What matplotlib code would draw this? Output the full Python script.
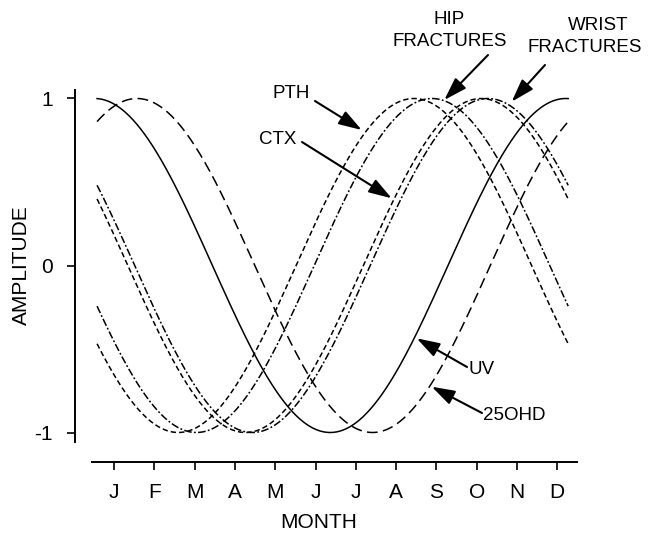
import numpy as np
import matplotlib
matplotlib.use("Agg")
import matplotlib.pyplot as plt

plt.rcParams['font.family'] = ['Liberation Sans', 'DejaVu Sans']
plt.rcParams['axes.unicode_minus'] = False

# Month ticks (index 0 = January)
months = ["J", "F", "M", "A", "M", "J", "J", "A", "S", "O", "N", "D"]

# One seasonal cycle is drawn for every series, from year start to year end
cycle_start = -0.42
cycle_end = 11.27

# Peak (acrophase) of each series, in month-tick units
series = ["UV", "25OHD", "PTH", "HIP", "CTX", "WRIST"]
peak_month = [-0.48, 0.57, 7.44, 7.89, 9.11, 9.28]
amplitude = [1, 1, 1, 1, 1, 1]

styles = {
    "UV": dict(linestyle="-", lw=1.1),
    "25OHD": dict(linestyle=(0, (7, 3.5)), lw=1.1),
    "PTH": dict(linestyle=(0, (3.5, 2)), lw=1.1),
    "HIP": dict(linestyle=(0, (5, 1.5, 1.2, 1.5)), lw=1.1),
    "CTX": dict(linestyle=(0, (3.5, 2)), lw=1.1),
    "WRIST": dict(linestyle=(0, (5, 1.5, 1.2, 1.5)), lw=1.1),
}

W, H = 649, 536
fig = plt.figure(figsize=(W / 100, H / 100), dpi=100)

# axes frame in pixels: left spine x=75, bottom axis y=462, top y=90, right x=577
ax = fig.add_axes([75 / W, (H - 462) / H, (577 - 75) / W, (462 - 90) / H])
px_per_month = 40.3
x0_px = 114
y0_px, px_per_unit = 265.5, 167
ax.set_xlim((75 - x0_px) / px_per_month, (577 - x0_px) / px_per_month)
ax.set_ylim((y0_px - 462) / px_per_unit, (y0_px - 90) / px_per_unit)


def to_data(px, py):
    return (px - x0_px) / px_per_month, (y0_px - py) / px_per_unit


period = cycle_end - cycle_start
x = np.linspace(cycle_start, cycle_end, 500)
for name, pk, amp in zip(series, peak_month, amplitude):
    y = amp * np.cos(2 * np.pi * (x - pk) / period)
    ax.plot(x, y, color="black", **styles[name])

# spines
for s in ["top", "right"]:
    ax.spines[s].set_visible(False)
ax.spines["left"].set_linewidth(1.4)
ax.spines["bottom"].set_linewidth(1.4)
ax.spines["left"].set_bounds(to_data(0, 442)[1], to_data(0, 90)[1])
ax.spines["bottom"].set_bounds(to_data(92, 0)[0], to_data(577, 0)[0])

ax.set_yticks([-1, 0, 1])
ax.set_yticklabels(["-1", "0", "1"])
ax.set_xticks(range(12))
ax.set_xticklabels(months)
ax.tick_params(axis="both", direction="out", length=5.8, width=1.2,
               labelsize=15, colors="black")
ax.tick_params(axis="x", pad=9.5)
ax.tick_params(axis="y", pad=10)

fig.text(319 / W, (H - 523) / H, "MONTH", ha="center", va="center", fontsize=15)
fig.text(21 / W, (H - 265) / H, "AMPLITUDE", ha="center", va="center",
         rotation=90, fontsize=15)

# labels and arrows (pixel positions)
labels = [
    ("PTH", 291, 94),
    ("CTX", 278, 140),
    ("HIP", 449, 20),
    ("FRACTURES", 450, 42),
    ("WRIST", 598, 25),
    ("FRACTURES", 585, 48),
    ("UV", 482, 369),
    ("25OHD", 514, 415),
]
for txt, px, py in labels:
    ax.text(*to_data(px, py), txt, ha="center", va="center", fontsize=13.5,
            clip_on=False)

arrows = [
    ((315, 101), (361.7, 130)),
    ((302, 142), (391.7, 198.3)),
    ((488, 55), (444.3, 100)),
    ((545, 65), (511.7, 101.7)),
    ((467, 367), (416.7, 338.3)),
    ((482, 413), (431.7, 386.7)),
]
for tail, tip in arrows:
    ax.annotate("", xy=to_data(*tip), xytext=to_data(*tail),
                arrowprops=dict(arrowstyle="-|>,head_length=1.4,head_width=0.45",
                                color="black", lw=1.5, shrinkA=0, shrinkB=0),
                annotation_clip=False)

fig.savefig("out.png", dpi=100)
